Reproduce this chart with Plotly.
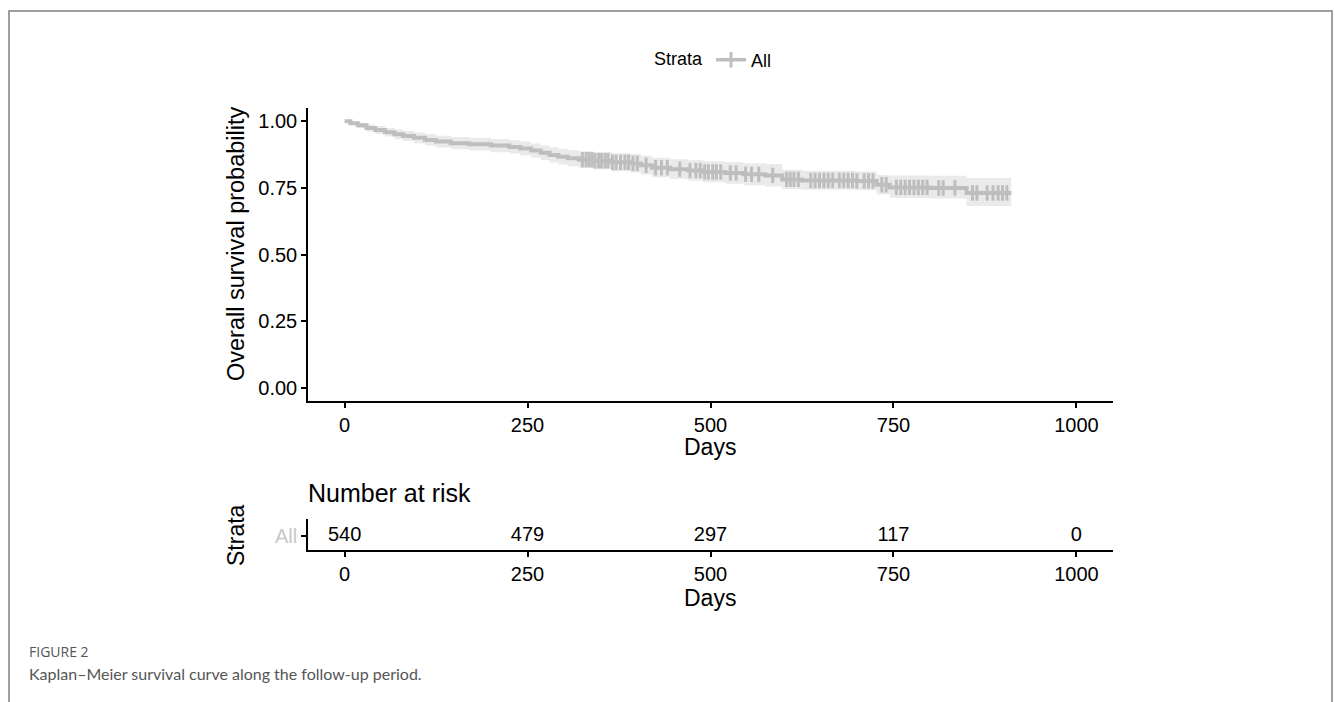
import numpy as np
import plotly.graph_objects as go

# ---------------- data ----------------
times = [0, 8, 18, 30, 42, 55, 68, 80, 95, 110, 125, 145, 170, 200, 225, 240, 255, 268,
         280, 292, 305, 320, 340, 365, 390, 405, 420, 445, 470, 490, 520, 545, 575, 598,
         625, 700, 727, 745, 800, 850, 911]
surv = [1.000, 0.993, 0.985, 0.975, 0.967, 0.959, 0.951, 0.945, 0.938, 0.930, 0.924,
        0.918, 0.914, 0.909, 0.904, 0.898, 0.890, 0.882, 0.874, 0.867, 0.861, 0.856,
        0.852, 0.846, 0.842, 0.835, 0.826, 0.820, 0.815, 0.810, 0.806, 0.801, 0.797,
        0.782, 0.778, 0.776, 0.762, 0.752, 0.750, 0.731, 0.731]
lower = [1.000, 0.986, 0.975, 0.962, 0.952, 0.943, 0.933, 0.926, 0.918, 0.909, 0.902,
         0.895, 0.890, 0.884, 0.879, 0.872, 0.863, 0.854, 0.845, 0.838, 0.831, 0.825,
         0.820, 0.813, 0.808, 0.800, 0.790, 0.783, 0.777, 0.771, 0.766, 0.760, 0.755,
         0.746, 0.743, 0.741, 0.726, 0.712, 0.710, 0.682, 0.682]
upper = [1.000, 1.000, 0.995, 0.988, 0.982, 0.975, 0.969, 0.964, 0.958, 0.951, 0.946,
         0.941, 0.938, 0.934, 0.929, 0.924, 0.917, 0.910, 0.903, 0.897, 0.892, 0.888,
         0.885, 0.880, 0.877, 0.871, 0.863, 0.858, 0.854, 0.850, 0.847, 0.843, 0.840,
         0.818, 0.814, 0.812, 0.798, 0.797, 0.796, 0.787, 0.787]
censor_times = [325, 330, 334, 338, 342, 347, 351, 356, 360, 366, 371, 377, 383, 388, 394,
                400, 412, 425, 433, 441, 458, 472, 480, 486, 492, 497, 503, 508, 514, 527,
                535, 548, 556, 566, 585, 604, 609, 614, 620, 637, 643, 649, 655, 661, 667,
                676, 682, 688, 694, 700, 710, 716, 722, 734, 740, 754, 760, 766, 772, 778,
                784, 790, 796, 812, 818, 834, 858, 864, 878, 886, 893, 899, 905]
risk_times = [0, 250, 500, 750, 1000]
risk_counts = [540, 479, 297, 117, 0]
x_ticks = [0, 250, 500, 750, 1000]
y_ticks = [0, 0.25, 0.5, 0.75, 1.0]
y_ticktext = ["0.00", "0.25", "0.50", "0.75", "1.00"]
strata = ["All"]

# survival at each censoring time (step lookup)
idx = np.searchsorted(np.array(times), np.array(censor_times), side="right") - 1
censor_surv = [surv[i] for i in idx]

W, H = 1335, 702
def px(x):
    return x / W
def py(y):
    return 1 - y / H

CURVE = "#BEBEBE"
BAND = "rgba(190,190,190,0.32)"
FONT = "Liberation Sans, Arial, Helvetica, sans-serif"

fig = go.Figure()
# confidence band
fig.add_trace(go.Scatter(x=times, y=upper, mode="lines", line=dict(width=0, shape="hv"),
                         showlegend=False, hoverinfo="skip"))
fig.add_trace(go.Scatter(x=times, y=lower, mode="lines", line=dict(width=0, shape="hv"),
                         fill="tonexty", fillcolor=BAND, showlegend=False, hoverinfo="skip"))
# KM curve
fig.add_trace(go.Scatter(x=times, y=surv, mode="lines", line=dict(color=CURVE, width=4, shape="hv"),
                         showlegend=False))
# censor marks
fig.add_trace(go.Scatter(x=censor_times, y=censor_surv, mode="markers",
                         marker=dict(symbol="line-ns", size=11, line=dict(color=CURVE, width=3)),
                         showlegend=False))
# legend entry
fig.add_trace(go.Scatter(x=[None], y=[None], mode="lines+markers", name="All",
                         line=dict(color=CURVE, width=3.5),
                         marker=dict(symbol="line-ns", size=11, line=dict(color=CURVE, width=3)),
                         showlegend=True))
# risk table
fig.add_trace(go.Scatter(x=risk_times, y=[strata[0]] * len(risk_times), mode="text",
                         text=[str(v) for v in risk_counts], textposition="middle center",
                         textfont=dict(size=20, color="black", family=FONT),
                         xaxis="x2", yaxis="y2", showlegend=False))

axis_common = dict(showline=True, linecolor="black", linewidth=1.5, ticks="outside",
                   ticklen=5, tickwidth=1.5, tickcolor="black", showgrid=False, zeroline=False,
                   tickfont=dict(size=20, color="black", family=FONT))

fig.update_layout(
    width=W, height=H, margin=dict(l=0, r=0, t=0, b=0),
    paper_bgcolor="white", plot_bgcolor="white",
    font=dict(family=FONT, color="black"),
    xaxis=dict(domain=[px(308), px(1113)], range=[-50, 1050], tickvals=x_ticks,
               anchor="y", **axis_common),
    yaxis=dict(domain=[py(401), py(108)], range=[-0.05, 1.05], tickvals=y_ticks,
               ticktext=y_ticktext, anchor="x", **axis_common),
    xaxis2=dict(domain=[px(308), px(1113)], range=[-50, 1050], tickvals=x_ticks,
                anchor="y2", **axis_common),
    yaxis2=dict(domain=[py(550), py(519)], type="category", anchor="x2", range=[-0.55, 0.65],
                showline=True, linecolor="black", linewidth=1.5, ticks="outside",
                ticklen=5, tickwidth=1.5, tickcolor="black", showgrid=False,
                tickfont=dict(size=20, color="#C8C8C8", family=FONT)),
    legend=dict(orientation="h", x=px(652), xanchor="left", y=py(60), yanchor="middle",
                title=dict(text="Strata", font=dict(size=18, family=FONT, color="black")),
                font=dict(size=18, family=FONT, color="black"), itemwidth=30,
                bgcolor="rgba(0,0,0,0)"),
)

annotations = [
    dict(text="Overall survival probability", x=px(236), y=py(244), textangle=-90,
         font=dict(size=23.5, family=FONT, color="black")),
    dict(text="Days", x=px(710.5), y=py(447), font=dict(size=23, family=FONT, color="black")),
    dict(text="Number at risk", x=px(306), y=py(493), xanchor="left",
         font=dict(size=25, family=FONT, color="black")),
    dict(text="Strata", x=px(236), y=py(535), textangle=-90,
         font=dict(size=23, family=FONT, color="black")),
    dict(text="Days", x=px(710.5), y=py(598), font=dict(size=23, family=FONT, color="black")),
    dict(text="FIGURE 2", x=px(27), y=py(651), xanchor="left",
         font=dict(size=14, family="Open Sans, sans-serif", color="#555555")),
    dict(text="Kaplan\u2013Meier survival curve along the follow-up period.", x=px(27), y=py(673),
         xanchor="left", font=dict(size=16, family="Lato, Open Sans, sans-serif", color="#555555")),
]
for a in annotations:
    a.update(xref="paper", yref="paper", showarrow=False)
    a.setdefault("xanchor", "center")
    a.setdefault("yanchor", "middle")
fig.update_layout(annotations=annotations)

fig.add_shape(type="rect", xref="paper", yref="paper", x0=px(9), x1=px(1332), y0=-0.2, y1=py(11),
              line=dict(color="#808080", width=1.5), fillcolor="rgba(0,0,0,0)", layer="below")

fig.write_html("out.html", config={"displayModeBar": False},
               post_script="document.body.style.margin='0';")
